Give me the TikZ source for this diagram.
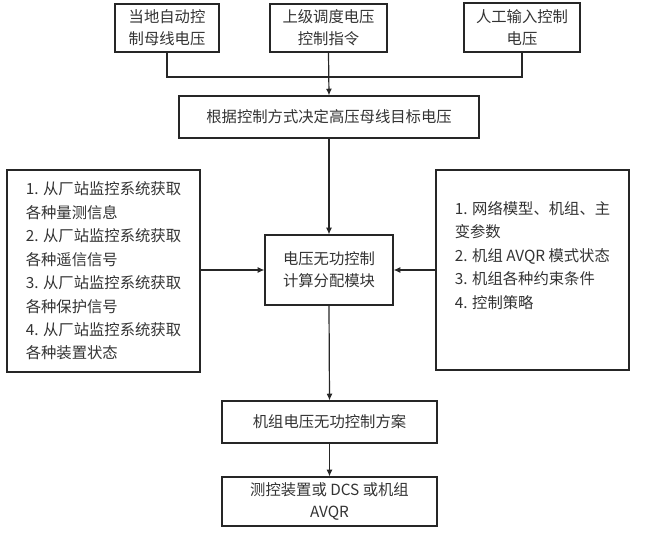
\documentclass[tikz,border=0pt]{standalone}
\usepackage{fontspec}
\setmainfont{Noto Sans CJK SC}
\usetikzlibrary{arrows.meta}

\begin{document}
\begin{tikzpicture}[
x=0.75pt, y=-0.75pt,
box/.style={draw=black!85, line width=0.9pt, align=center, inner sep=0pt, text=black!80, font=\fontsize{11.5}{16.5}\selectfont},
list/.style={box, align=left, font=\fontsize{11.5}{17.6}\selectfont},
flow/.style={draw=black!85, line width=0.9pt},
arr/.style={flow, -{Latex[length=5pt, width=4.5pt]}}
]

\useasboundingbox (0,0) rectangle (646,532);

%%% inputs
\node[box, minimum width=78pt, minimum height=36pt] (local) at (167,28) {当地自动控\\制母线电压};
\node[box, minimum width=87.75pt, minimum height=36pt] (dispatch) at (328.5,28) {上级调度电压\\控制指令};
\node[box, minimum width=87pt, minimum height=36.75pt] (manual) at (522,27.5) {人工输入控制\\电压};
\coordinate (join) at (329,77);

%%% target voltage
\node[box, minimum width=225pt, minimum height=31.5pt] (target) at (329,117) {根据控制方式决定高压母线目标电压};

%%% calculation
\node[box, minimum width=96pt, minimum height=52.5pt] (calc) at (329,270) {电压无功控制\\计算分配模块};

\node[list, minimum width=144.75pt, minimum height=151.5pt] (station) at (103.5,271) {%
1. 从厂站监控系统获取\\各种量测信息\\
2. 从厂站监控系统获取\\各种遥信信号\\
3. 从厂站监控系统获取\\各种保护信号\\
4. 从厂站监控系统获取\\各种装置状态};

\node[list, minimum width=144.75pt, minimum height=150pt] (model) at (532.5,270) {%
1. 网络模型、机组、主\\变参数\\
2. 机组 AVQR 模式状态\\
3. 机组各种约束条件\\
4. 控制策略\\ \strut};

%%% output
\node[box, minimum width=161.25pt, minimum height=31.5pt] (plan) at (329.5,422) {机组电压无功控制方案};
\node[box, minimum width=161.25pt, minimum height=36.75pt] (device) at (329.5,501.5) {测控装置或 DCS 或机组\\AVQR};

%%% connectors
\draw[flow] (local.south) |- (join) -| (manual.south);
\draw[arr] (dispatch.south) -- (target.north);
\draw[arr] (target.south) -- (calc.north);
\draw[arr] (station.east |- calc.west) -- (calc.west);
\draw[arr] (model.west |- calc.east) -- (calc.east);
\draw[arr] (calc.south) -- (plan.north);
\draw[arr] (plan.south) -- (device.north);

\end{tikzpicture}
\end{document}
